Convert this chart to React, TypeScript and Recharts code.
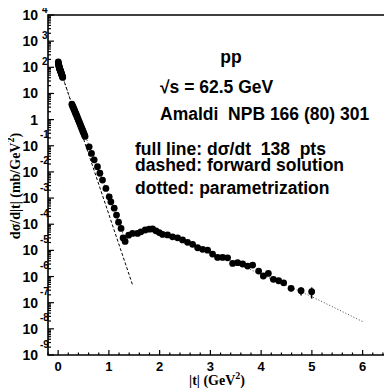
import React from "react";
import {
  ComposedChart,
  XAxis,
  YAxis,
  Scatter,
  Line,
  ErrorBar,
  ReferenceArea,
} from "recharts";

// Measured pp elastic differential cross section at sqrt(s) = 62.5 GeV
const tPoints = [
  0.003, 0.006, 0.009, 0.012, 0.015, 0.018, 0.021, 0.024, 0.027, 0.03, 0.034,
  0.038, 0.042, 0.046, 0.05, 0.055, 0.06, 0.065, 0.07, 0.075, 0.08, 0.085, 0.09,
  0.27, 0.28, 0.29, 0.3, 0.31, 0.32, 0.33, 0.34, 0.35, 0.36, 0.37, 0.38, 0.39,
  0.4, 0.41, 0.42, 0.43, 0.44, 0.45, 0.46, 0.47, 0.48, 0.49, 0.5, 0.51, 0.52,
  0.53, 0.611, 0.657, 0.71, 0.775, 0.822, 0.874, 0.941, 1.006, 1.039, 1.105,
  1.15, 1.19, 1.24, 1.28, 1.32, 1.39, 1.466, 1.564, 1.631, 1.716, 1.795, 1.86,
  1.927, 1.992, 2.057, 2.156, 2.254, 2.353, 2.452, 2.55, 2.649, 2.748, 2.846,
  2.945, 3.043, 3.142, 3.241, 3.339, 3.438, 3.536, 3.635, 3.734, 3.832, 3.951,
  4.043, 4.142, 4.241, 4.345, 4.444, 4.59, 4.787, 4.996,
];
const dsdtPoints = [
  160, 145, 132, 122, 114, 107, 101, 96, 92, 88, 84, 80, 76, 72, 69, 65, 61, 57,
  54, 50, 47, 44, 41, 3.9, 3.5, 3.1, 2.85, 2.55, 2.3, 2.05, 1.85, 1.65, 1.5,
  1.33, 1.2, 1.07, 0.96, 0.86, 0.77, 0.69, 0.62, 0.55, 0.49, 0.44, 0.395, 0.355,
  0.318, 0.285, 0.255, 0.228, 0.091, 0.051, 0.029, 0.0158, 0.0089, 0.0049,
  0.00234, 0.00112, 0.00072, 0.00041, 0.000224, 0.00012, 6.9e-5, 3.0e-5,
  2.2e-5, 3.8e-5, 4.47e-5, 4.47e-5, 5.13e-5, 6.03e-5, 6.46e-5, 6.61e-5,
  5.62e-5, 4.79e-5, 4.07e-5, 3.9e-5, 3.31e-5, 3.02e-5, 2.51e-5, 2.04e-5,
  1.7e-5, 1.26e-5, 1.1e-5, 1.02e-5, 7.2e-6, 5.4e-6, 5.4e-6, 5.2e-6, 3.16e-6,
  3.39e-6, 3.02e-6, 2.51e-6, 2.75e-6, 1.62e-6, 1.05e-6, 1.32e-6, 7.8e-7,
  6.9e-7, 5.75e-7, 3.55e-7, 2.88e-7, 2.63e-7,
];
// Statistical errors of the last large-|t| points
const tailErrors = [1.0e-7, 1.3e-7, 1.2e-7, 0.8e-7, 1.0e-7, 1.2e-7];

// Forward (exponential) solution
const forwardT = [0, 1.466];
const forwardV = [141, 4.8e-7];

// Parametrization curve
const paramT = [
  0, 0.1, 0.27, 0.55, 0.8, 1.0, 1.2, 1.32, 1.45, 1.85, 2.5, 3.0, 3.5, 4.0, 4.5,
  5.0, 5.5, 6.0,
];
const paramV = [
  130, 38, 3.9, 0.2, 0.012, 0.0012, 1.2e-4, 2.4e-5, 4.0e-5, 6.3e-5, 2.2e-5,
  8.5e-6, 3.3e-6, 1.2e-6, 4.6e-7, 1.7e-7, 5.7e-8, 1.9e-8,
];

const xTicks: number[] = [];
for (let i = -1; i <= 32; i++) xTicks.push(Math.round(i * 0.2 * 10) / 10);

const yTicks: number[] = [];
for (let e = -9; e <= 4; e++) {
  yTicks.push(Math.pow(10, e));
  if (e < 4) for (let m = 2; m <= 9; m++) yTicks.push(m * Math.pow(10, e));
}

const points = tPoints.map((t, i) => {
  const k = i - (tPoints.length - tailErrors.length);
  return { t, v: dsdtPoints[i], err: k >= 0 ? tailErrors[k] : 0 };
});
const forward = forwardT.map((t, i) => ({ t, v: forwardV[i] }));
const param = paramT.map((t, i) => ({ t, v: paramV[i] }));

const SANS = "'Liberation Sans', Arial, Helvetica, sans-serif";
const SERIF = "'Liberation Serif', 'Times New Roman', serif";

const XTick = (props: any) => {
  const { x, y, payload } = props;
  const v = payload.value as number;
  const major = Math.abs(v - Math.round(v)) < 1e-6;
  return (
    <g>
      <line x1={x} x2={x} y1={y} y2={y - (major ? 5 : 2.5)} stroke="#000" strokeWidth={1.2} />
      {major && (
        <text
          x={x}
          y={y + 11}
          textAnchor="middle"
          dominantBaseline="central"
          fontFamily={SANS}
          fontWeight="bold"
          fontSize={13}
          fill="#000"
        >
          {Math.round(v)}
        </text>
      )}
    </g>
  );
};

const YTick = (props: any) => {
  const { x, y, payload } = props;
  const v = payload.value as number;
  const lg = Math.log10(v);
  const e = Math.round(lg);
  const major = Math.abs(lg - e) < 1e-6;
  const base = e === 0 ? "1" : "10";
  return (
    <g>
      <line x1={x} x2={x + (major ? 6 : 3)} y1={y} y2={y} stroke="#000" strokeWidth={1.2} />
      {major && (
        <text
          x={x - 10}
          y={y}
          textAnchor="end"
          dominantBaseline="central"
          fontFamily={SANS}
          fontWeight="bold"
          fontSize={14}
          fill="#000"
        >
          {base}
        </text>
      )}
      {major && e !== 0 && e !== 1 && (
        <text
          x={e < 0 ? x - 8 : x - 6}
          y={e < 0 ? y - 11 : y - 6}
          textAnchor="start"
          dominantBaseline="central"
          fontFamily={SANS}
          fontWeight="bold"
          fontSize={10}
          fill="#000"
        >
          {e}
        </text>
      )}
    </g>
  );
};

const Dot = (props: any) => {
  const { cx, cy } = props;
  if (cx == null || cy == null) return null;
  return <circle cx={cx} cy={cy} r={3.4} fill="#000" />;
};

const textStyle = {
  fontFamily: SANS,
  fontWeight: "bold" as const,
  fontSize: 17.5,
  fill: "#000",
  style: { whiteSpace: "pre" as const },
};

export default function App() {
  return (
    <div style={{ position: "relative", width: 392, height: 392, margin: "-8px 0 0 -8px" }}>
      <ComposedChart
        width={392}
        height={392}
        margin={{ top: 15, right: 4, bottom: 0, left: 8 }}
      >
        <XAxis
          type="number"
          dataKey="t"
          domain={[-0.2, 6.5]}
          ticks={xTicks}
          interval={0}
          allowDataOverflow
          axisLine={false}
          tickLine={false}
          tickSize={0}
          tickMargin={0}
          height={37}
          tick={<XTick />}
        />
        <YAxis
          type="number"
          dataKey="v"
          scale="log"
          domain={[1e-9, 1e4]}
          ticks={yTicks}
          interval={0}
          allowDataOverflow
          axisLine={false}
          tickLine={false}
          tickSize={0}
          tickMargin={0}
          width={40}
          tick={<YTick />}
        />
        <ReferenceArea
          x1={-0.2}
          x2={6.5}
          y1={1e-9}
          y2={1e4}
          fill="none"
          fillOpacity={0}
          stroke="#000"
          strokeWidth={1.6}
          strokeOpacity={1}
          ifOverflow="visible"
        />
        <Line
          data={param}
          dataKey="v"
          type="linear"
          stroke="#444"
          strokeWidth={1}
          strokeDasharray="1 2"
          dot={false}
          activeDot={false}
          isAnimationActive={false}
        />
        <Line
          data={forward}
          dataKey="v"
          type="linear"
          stroke="#000"
          strokeWidth={1}
          strokeDasharray="3 2"
          dot={false}
          activeDot={false}
          isAnimationActive={false}
        />
        <Scatter data={points} dataKey="v" shape={<Dot />} isAnimationActive={false}>
          <ErrorBar dataKey="err" direction="y" width={0} stroke="#000" strokeWidth={1.5} />
        </Scatter>
      </ComposedChart>
      <svg
        width={392}
        height={392}
        style={{ position: "absolute", left: 0, top: 0, pointerEvents: "none" }}
      >
        <text
          x={217}
          y={380}
          textAnchor="middle"
          dominantBaseline="central"
          fontFamily={SERIF}
          fontWeight="bold"
          fontSize={14}
        >
          |t| (GeV
          <tspan fontSize={10} dy={-5}>2</tspan>
          <tspan dy={5}>)</tspan>
        </text>
        <text
          transform="translate(15,186) rotate(-90)"
          textAnchor="middle"
          dominantBaseline="central"
          fontFamily={SERIF}
          fontWeight="bold"
          fontSize={14}
        >
          dσ/d|t| (mb/GeV
          <tspan fontSize={10} dy={-5}>2</tspan>
          <tspan dy={5}>)</tspan>
        </text>
        <text x={231} y={57} textAnchor="middle" dominantBaseline="central" {...textStyle}>
          pp
        </text>
        <text x={160} y={87} dominantBaseline="central" {...textStyle}>
          {"√s = 62.5 GeV"}
        </text>
        <text x={160} y={114} dominantBaseline="central" {...textStyle}>
          {"Amaldi  NPB 166 (80) 301"}
        </text>
        <text x={135} y={149} dominantBaseline="central" {...textStyle}>
          {"full line: dσ/dt  138  pts"}
        </text>
        <text x={135} y={165} dominantBaseline="central" {...textStyle}>
          {"dashed: forward solution"}
        </text>
        <text x={135} y={188} dominantBaseline="central" {...textStyle}>
          {"dotted: parametrization"}
        </text>
      </svg>
    </div>
  );
}
